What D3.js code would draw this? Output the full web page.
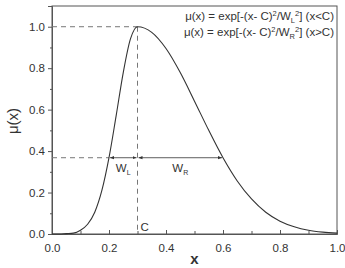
<!DOCTYPE html>
<html>
<head>
<meta charset="utf-8">
<script src="https://cdn.jsdelivr.net/npm/d3@7"></script>
<style>
body{margin:0;background:#fff;}
svg text{font-family:"Liberation Sans",Arial,sans-serif;fill:#333;}
</style>
</head>
<body>
<svg id="chart"></svg>
<script>
// values
var xValues = [0.0,0.025,0.05,0.075,0.1,0.125,0.15,0.175,0.2,0.225,0.25,0.275,0.3,
               0.35,0.4,0.45,0.5,0.55,0.6,0.65,0.7,0.75,0.8,0.85,0.9,0.95,1.0];
var muValues = [0.0,0.0,0.002,0.004,0.018,0.047,0.105,0.21,0.368,0.57,0.779,0.94,1.0,
                0.973,0.895,0.779,0.641,0.5,0.368,0.256,0.169,0.105,0.062,0.035,0.018,0.009,0.004];
var xTicks = [0.0,0.2,0.4,0.6,0.8,1.0];
var yTicks = [0.0,0.2,0.4,0.6,0.8,1.0];
var centerC = 0.3;
var leftEdge = 0.2;
var rightEdge = 0.6;
var halfLevel = 0.368;
var formulaLines = ["(x<C)","(x>C)"];

var screen = {width:345, height:268};
var margins = {top:6, bottom:34, left:52, right:8};
var graph = {
    width:screen.width-margins.left-margins.right,
    height:screen.height-margins.top-margins.bottom
};

var svg = d3.select("#chart")
    .attr("width",screen.width)
    .attr("height",screen.height);

var xScale = d3.scaleLinear().domain([0,1]).range([0,graph.width]);
var yScale = d3.scaleLinear().domain([0,1.1]).range([graph.height,0]);

var g = svg.append("g")
    .attr("transform","translate("+margins.left+","+margins.top+")");

// frame
g.append("rect")
    .attr("width",graph.width)
    .attr("height",graph.height)
    .attr("fill","none")
    .attr("stroke","#555")
    .attr("stroke-width",1);

// minor ticks
var minorX = d3.range(0.1,1.0,0.2);
var minorY = d3.range(0.1,1.1,0.2);
g.append("g")
    .attr("transform","translate(0,"+graph.height+")")
    .call(d3.axisBottom(xScale).tickValues(minorX).tickSize(-3).tickFormat(""))
    .call(function(a){a.select(".domain").remove();});
g.append("g")
    .call(d3.axisLeft(yScale).tickValues(minorY).tickSize(2).tickFormat(""))
    .call(function(a){a.select(".domain").remove();});

// major axes
var xAxis = g.append("g")
    .attr("transform","translate(0,"+graph.height+")")
    .call(d3.axisBottom(xScale).tickValues(xTicks).tickSize(-4).tickPadding(8).tickFormat(d3.format(".1f")));
var yAxis = g.append("g")
    .call(d3.axisLeft(yScale).tickValues(yTicks).tickSize(4).tickPadding(3).tickFormat(d3.format(".1f")));

g.selectAll(".tick line").attr("stroke","#555");
g.selectAll(".domain").attr("stroke","#555");
g.selectAll(".tick text").style("font-size","11.5px").attr("fill","#333");
xAxis.selectAll(".tick text").attr("dy","0.9em");

// dashed guides
var dash = "5,4";
var guides = [
    [[0,1.0],[centerC,1.0]],
    [[centerC,1.0],[centerC,0]],
    [[0,halfLevel],[leftEdge,halfLevel]]
];
g.selectAll(".guide")
    .data(guides)
    .enter()
    .append("line")
    .attr("x1",function(d){return xScale(d[0][0]);})
    .attr("y1",function(d){return yScale(d[0][1]);})
    .attr("x2",function(d){return xScale(d[1][0]);})
    .attr("y2",function(d){return yScale(d[1][1]);})
    .attr("stroke","#777")
    .attr("stroke-width",1)
    .attr("stroke-dasharray",dash);

// curve
var line = d3.line()
    .x(function(d,i){return xScale(xValues[i]);})
    .y(function(d){return yScale(d);})
    .curve(d3.curveMonotoneX);
g.append("path")
    .datum(muValues)
    .attr("d",line)
    .attr("fill","none")
    .attr("stroke","#333")
    .attr("stroke-width",1.1);

// width arrows
svg.append("defs").append("marker")
    .attr("id","arr")
    .attr("viewBox","0 0 10 10")
    .attr("refX",10).attr("refY",5)
    .attr("markerWidth",5).attr("markerHeight",5)
    .attr("orient","auto-start-reverse")
    .append("path")
    .attr("d","M0,1 L10,5 L0,9 z")
    .attr("fill","#333");

var arrows = [[leftEdge,centerC],[centerC,rightEdge]];
g.selectAll(".arrow")
    .data(arrows)
    .enter()
    .append("line")
    .attr("x1",function(d){return xScale(d[0])+1;})
    .attr("x2",function(d){return xScale(d[1])-1;})
    .attr("y1",yScale(halfLevel))
    .attr("y2",yScale(halfLevel))
    .attr("stroke","#333")
    .attr("stroke-width",0.8)
    .attr("marker-start","url(#arr)")
    .attr("marker-end","url(#arr)");

var wLabels = [{x:(leftEdge+centerC)/2, sub:"L"},{x:(centerC+rightEdge)/2, sub:"R"}];
var wl = g.selectAll(".wlab")
    .data(wLabels)
    .enter()
    .append("text")
    .attr("x",function(d){return xScale(d.x);})
    .attr("y",yScale(halfLevel)+14)
    .attr("text-anchor","middle")
    .style("font-size","11.5px");
wl.append("tspan").text("W");
wl.append("tspan")
    .attr("dy","3")
    .style("font-size","7px")
    .text(function(d){return d.sub;});

// C marker
g.append("text")
    .attr("x",xScale(centerC)+3)
    .attr("y",graph.height-3)
    .style("font-size","11.5px")
    .text("C");

// formulas
var subs = ["L","R"];
formulaLines.forEach(function(cond,i)
{
    var t = g.append("text")
        .attr("x",graph.width-3)
        .attr("y",14+i*16)
        .attr("text-anchor","end")
        .style("font-size","11.5px");
    t.append("tspan").text("\u03bc(x) = exp[-(x- C)");
    t.append("tspan").attr("dy","-4").style("font-size","7.5px").text("2");
    t.append("tspan").attr("dy","4").text("/W");
    t.append("tspan").attr("dy","3").style("font-size","7.5px").text(subs[i]);
    t.append("tspan").attr("dy","-7").style("font-size","7.5px").text("2");
    t.append("tspan").attr("dy","4").text("] "+cond);
});

// axis titles
svg.append("text")
    .attr("x",margins.left+graph.width/2)
    .attr("y",264)
    .attr("text-anchor","middle")
    .style("font-size","15px")
    .style("font-weight","bold")
    .text("x");
svg.append("text")
    .attr("transform","translate(18,"+(margins.top+graph.height/2+1)+") rotate(-90)")
    .attr("text-anchor","middle")
    .style("font-size","15px")
    .text("\u03bc(x)");
</script>
</body>
</html>
